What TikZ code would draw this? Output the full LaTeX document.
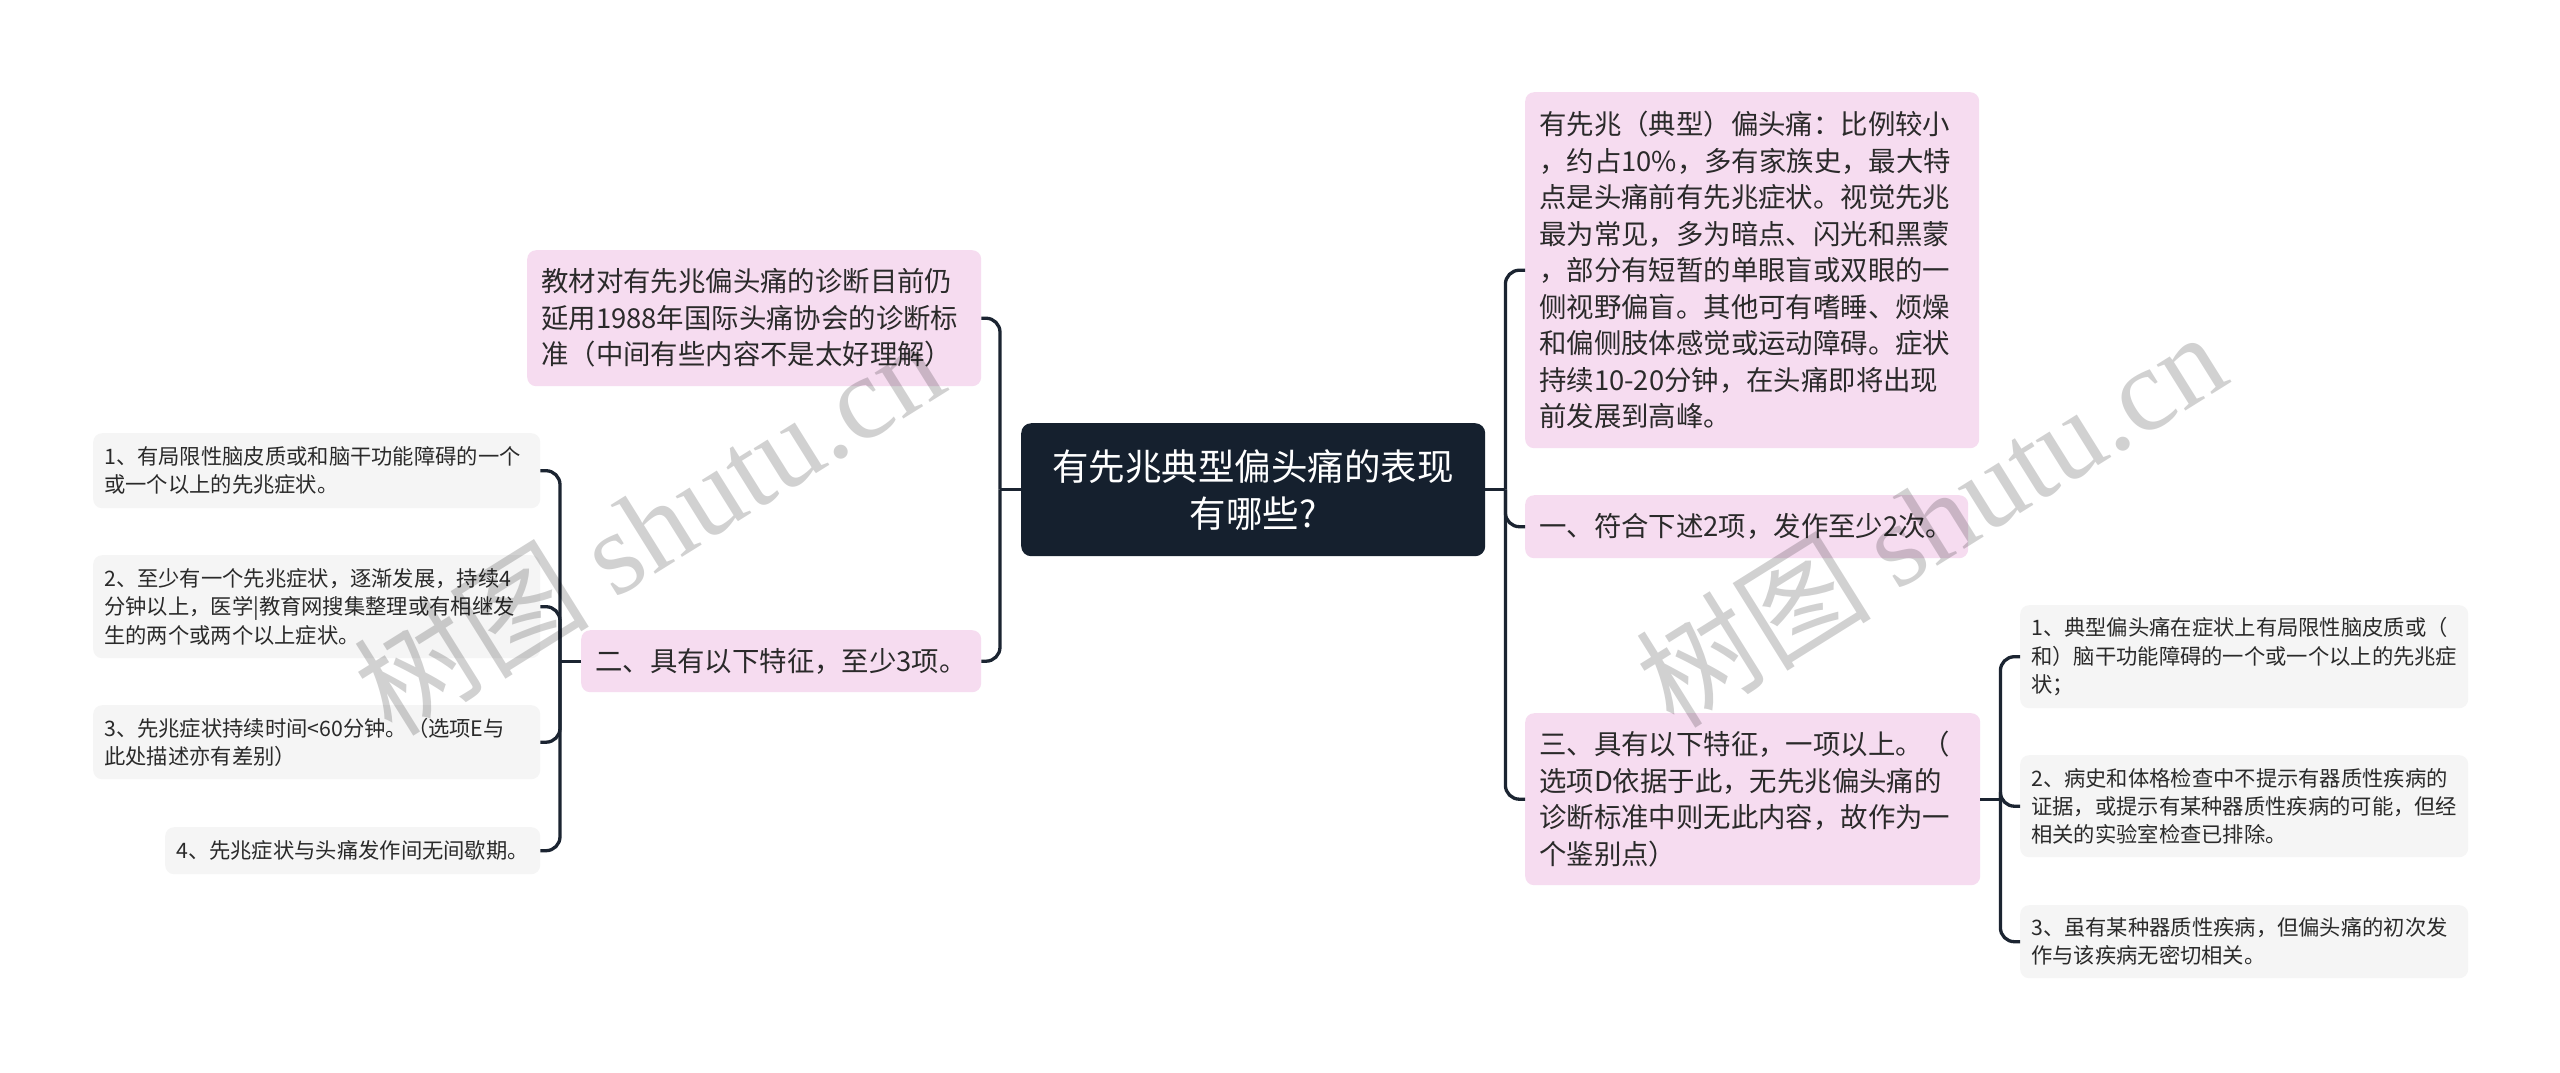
\documentclass[tikz,border=0pt]{standalone}
\usepackage{fontspec}
\setmainfont{Noto Sans CJK SC}
\newfontfamily\wmfont{Liberation Serif}
\usetikzlibrary{calc}
\definecolor{pinkfill}{HTML}{F6DCF0}
\definecolor{leaffill}{HTML}{F5F5F5}
\definecolor{rootfill}{HTML}{15202E}
\definecolor{linecol}{HTML}{1B2431}
\definecolor{textcol}{HTML}{2A2A2A}
\tikzset{
  box/.style={anchor=north west, rounded corners=9pt, inner ysep=0pt, align=left, text=textcol},
  pinkbox/.style={box, fill=pinkfill, inner xsep=14pt, font=\fontsize{27.4}{36.5}\selectfont},
  leafbox/.style={box, fill=leaffill, inner xsep=11pt, font=\fontsize{21.3}{28.3}\selectfont},
  rootbox/.style={anchor=north west, rounded corners=10pt, fill=rootfill, text=white, align=center, inner sep=0pt, font=\fontsize{36.5}{47}\selectfont},
  conn/.style={draw=linecol, line width=3.3pt, rounded corners=14pt},
  wmark/.style={rotate=32, text=black, opacity=0.18, font=\fontsize{118}{118}\selectfont}
}
\begin{document}
\begin{tikzpicture}[x=1pt,y=-1pt]
\fill[white] (0,0) rectangle (2560,1072);
\useasboundingbox (0,0) rectangle (2560,1072);

% root
\node[rootbox, minimum width=464pt, minimum height=133pt] (root) at (1021,423)
  {有先兆典型偏头痛的表现\\有哪些?};

% left children
\node[pinkbox, text width=426pt, minimum height=136pt] (jc) at (527,250)
  {教材对有先兆偏头痛的诊断目前仍\\延用1988年国际头痛协会的诊断标\\准（中间有些内容不是太好理解）};
\node[pinkbox, text width=372pt, minimum height=62pt] (er) at (581,630)
  {二、具有以下特征，至少3项。};

% left leaves
\node[leafbox, text width=425pt, minimum height=75pt] (la) at (93,433)
  {1、有局限性脑皮质或和脑干功能障碍的一个\\或一个以上的先兆症状。};
\node[leafbox, text width=425pt, minimum height=103pt] (lb) at (93,555)
  {2、至少有一个先兆症状，逐渐发展，持续4\\分钟以上，医学|教育网搜集整理或有相继发\\生的两个或两个以上症状。};
\node[leafbox, text width=425pt, minimum height=74pt] (lc) at (93,705)
  {3、先兆症状持续时间<60分钟。（选项E与\\此处描述亦有差别）};
\node[leafbox, text width=353pt, minimum height=47pt] (ld) at (165,827)
  {4、先兆症状与头痛发作间无间歇期。};

% right children
\node[pinkbox, text width=426pt, minimum height=356pt] (ra) at (1525,92)
  {有先兆（典型）偏头痛：比例较小\\，约占10\%，多有家族史，最大特\\点是头痛前有先兆症状。视觉先兆\\最为常见，多为暗点、闪光和黑蒙\\，部分有短暂的单眼盲或双眼的一\\侧视野偏盲。其他可有嗜睡、烦燥\\和偏侧肢体感觉或运动障碍。症状\\持续10-20分钟，在头痛即将出现\\前发展到高峰。};
\node[pinkbox, text width=415pt, minimum height=63pt] (rb) at (1525,495)
  {一、符合下述2项，发作至少2次。};
\node[pinkbox, text width=427pt, minimum height=172pt] (rc) at (1525,713)
  {三、具有以下特征，一项以上。（\\选项D依据于此，无先兆偏头痛的\\诊断标准中则无此内容，故作为一\\个鉴别点）};

% right leaves
\node[leafbox, text width=426pt, minimum height=103pt] (rla) at (2020,605)
  {1、典型偏头痛在症状上有局限性脑皮质或（\\和）脑干功能障碍的一个或一个以上的先兆症\\状；};
\node[leafbox, text width=426pt, minimum height=102pt] (rlb) at (2020,755)
  {2、病史和体格检查中不提示有器质性疾病的\\证据，或提示有某种器质性疾病的可能，但经\\相关的实验室检查已排除。};
\node[leafbox, text width=426pt, minimum height=73pt] (rlc) at (2020,905)
  {3、虽有某种器质性疾病，但偏头痛的初次发\\作与该疾病无密切相关。};

% junction points
\coordinate (jl) at ($(root.west)+(-21,0)$);
\coordinate (jr) at ($(root.east)+(20,0)$);
\coordinate (jl2) at ($(er.west)+(-21,0)$);
\coordinate (jr2) at ($(rc.east)+(20,0)$);

% connectors
\draw[conn] (root.west) -- (jl);
\draw[conn] (jl) |- (jc.east);
\draw[conn] (jl) |- (er.east);

\draw[conn] (er.west) -- (jl2);
\draw[conn] (jl2) |- (la.east);
\draw[conn] (jl2) |- (lb.east);
\draw[conn] (jl2) |- (lc.east);
\draw[conn] (jl2) |- (ld.east);

\draw[conn] (root.east) -- (jr);
\draw[conn] (jr) |- (ra.west);
\draw[conn] (jr) |- (rb.west);
\draw[conn] (jr) |- (rc.west);

\draw[conn] (rc.east) -- (jr2);
\draw[conn] (jr2) |- (rla.west);
\draw[conn] (jr2) |- (rlb.west);
\draw[conn] (jr2) |- (rlc.west);

% watermarks
\node[wmark] (wm1) at (648,526) {树图 {\wmfont shutu.cn}};
\node[wmark] (wm2) at (1930,518) {树图 {\wmfont shutu.cn}};
\end{tikzpicture}
\end{document}
